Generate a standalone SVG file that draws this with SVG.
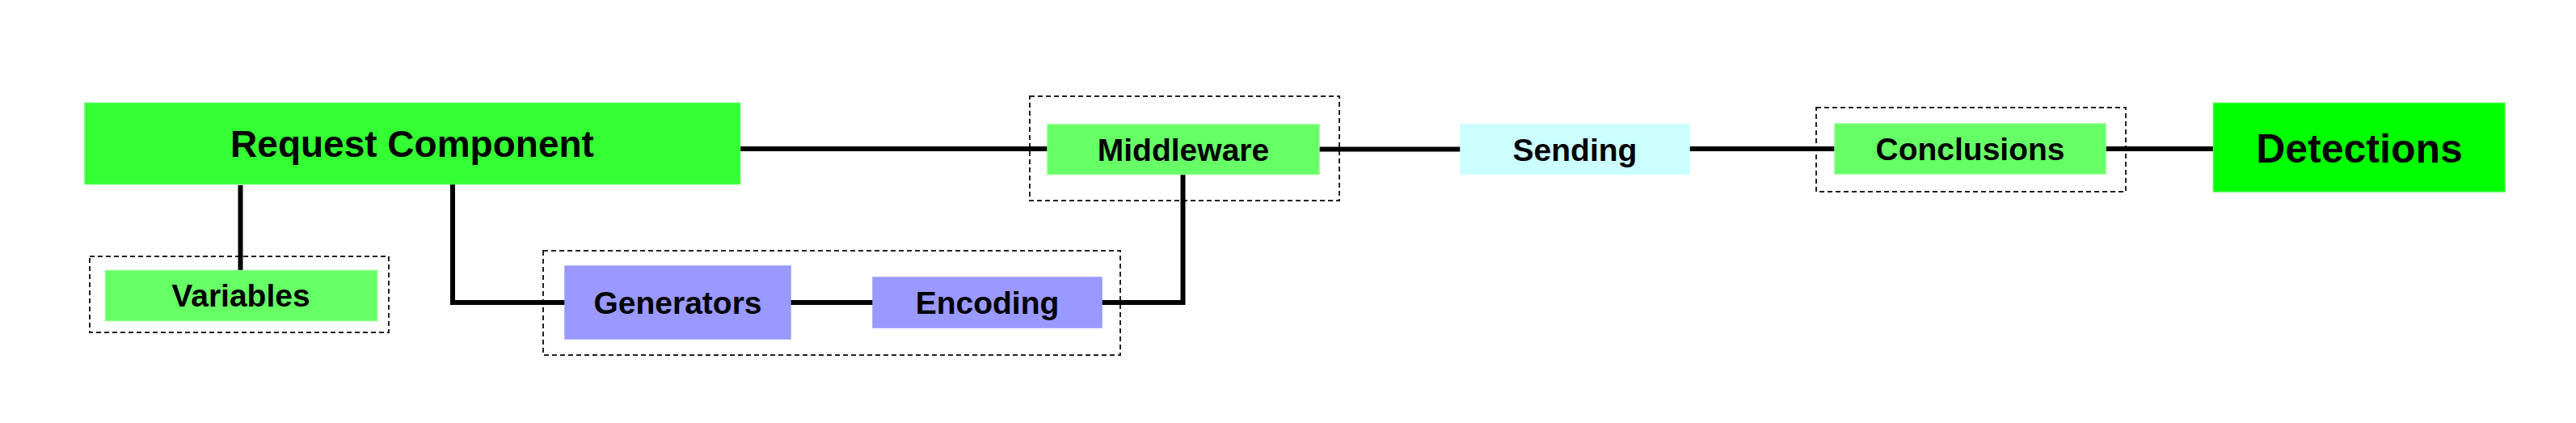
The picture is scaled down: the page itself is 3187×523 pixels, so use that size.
<svg xmlns="http://www.w3.org/2000/svg" width="3187" height="523" viewBox="0 0 3187 523">
<style>
.bg{fill:#ffffff}
.grp{fill:none;stroke:#222;stroke-width:2;stroke-dasharray:6,4}
.box{stroke-width:1.5}
.g1{fill:#33ff33;stroke:#55ff55}
.g2{fill:#66ff66;stroke:#88ff88}
.g3{fill:#00ff00;stroke:#44ff44}
.p{fill:#9999ff;stroke:#9999ff}
.c{fill:#ccffff;stroke:#ccffff}
.lbl{font-family:"Liberation Sans",Arial,sans-serif;font-weight:bold;fill:#000;text-anchor:middle}
.conn path{fill:none;stroke:#000;stroke-width:6}
</style>
<rect class="bg" x="0" y="0" width="3187" height="523"/>
<g id="containers">
<rect class="grp" x="111" y="317" width="370" height="94"/>
<rect class="grp" x="672" y="310" width="714" height="129"/>
<rect class="grp" x="1274" y="119" width="383" height="129"/>
<rect class="grp" x="2247" y="133" width="383" height="104"/>
</g>
<g id="connectors" class="conn">
<path d="M915,184 H1296"/>
<path d="M297.5,229 V334"/>
<path d="M560,227 V374 H699"/>
<path d="M978,374 H1080"/>
<path d="M1363,374 H1463.5 V215"/>
<path d="M1632,184.5 H1807"/>
<path d="M2090,184 H2270"/>
<path d="M2605,184 H2738"/>
</g>
<g id="request-component">
<rect class="box g1" x="105" y="127.5" width="810.5" height="100"/>
<text class="lbl" x="510" y="193.5" font-size="46">Request Component</text>
</g>
<g id="variables">
<rect class="box g2" x="130.5" y="334.5" width="336" height="62"/>
<text class="lbl" x="298" y="379" font-size="39">Variables</text>
</g>
<g id="generators">
<rect class="box p" x="699" y="329" width="279" height="90"/>
<text class="lbl" x="838.5" y="388" font-size="39">Generators</text>
</g>
<g id="encoding">
<rect class="box p" x="1080" y="343" width="283" height="62"/>
<text class="lbl" x="1221.5" y="388" font-size="39">Encoding</text>
</g>
<g id="middleware">
<rect class="box g2" x="1296" y="154" width="336" height="61.5"/>
<text class="lbl" x="1464" y="199" font-size="39">Middleware</text>
</g>
<g id="sending">
<rect class="box c" x="1807" y="154" width="283" height="61.5"/>
<text class="lbl" x="1948.5" y="199" font-size="39">Sending</text>
</g>
<g id="conclusions">
<rect class="box g2" x="2270" y="153" width="335" height="62"/>
<text class="lbl" x="2437.5" y="198" font-size="39">Conclusions</text>
</g>
<g id="detections">
<rect class="box g3" x="2738.5" y="127.5" width="360.5" height="109.5"/>
<text class="lbl" x="2919" y="200.5" font-size="50">Detections</text>
</g>
</svg>
